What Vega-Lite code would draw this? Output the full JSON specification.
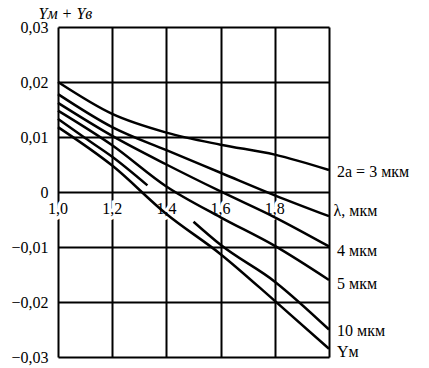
{
  "$schema": "https://vega.github.io/schema/vega-lite/v6.json",
  "autosize": "none",
  "width": 271,
  "height": 330,
  "padding": {"left": 58, "top": 27, "right": 100, "bottom": 11},
  "background": "white",
  "config": {
    "view": {"stroke": null},
    "font": "Liberation Serif"
  },
  "datasets": {
    "curves": [
      {"lam": 1.0, "v": 0.020, "s": "a3"},
      {"lam": 1.2, "v": 0.0142, "s": "a3"},
      {"lam": 1.4, "v": 0.0108, "s": "a3"},
      {"lam": 1.6, "v": 0.0086, "s": "a3"},
      {"lam": 1.8, "v": 0.0068, "s": "a3"},
      {"lam": 2.0, "v": 0.004, "s": "a3"},
      {"lam": 1.0, "v": 0.0178, "s": "b"},
      {"lam": 1.2, "v": 0.0118, "s": "b"},
      {"lam": 1.4, "v": 0.0076, "s": "b"},
      {"lam": 1.6, "v": 0.0035, "s": "b"},
      {"lam": 1.8, "v": -0.0006, "s": "b"},
      {"lam": 2.0, "v": -0.0044, "s": "b"},
      {"lam": 1.0, "v": 0.0162, "s": "a4"},
      {"lam": 1.2, "v": 0.0102, "s": "a4"},
      {"lam": 1.4, "v": 0.005, "s": "a4"},
      {"lam": 1.6, "v": 0.0001, "s": "a4"},
      {"lam": 1.8, "v": -0.0046, "s": "a4"},
      {"lam": 2.0, "v": -0.0099, "s": "a4"},
      {"lam": 1.0, "v": 0.0148, "s": "a5"},
      {"lam": 1.2, "v": 0.0085, "s": "a5"},
      {"lam": 1.4, "v": 0.001, "s": "a5"},
      {"lam": 1.6, "v": -0.0046, "s": "a5"},
      {"lam": 1.8, "v": -0.0098, "s": "a5"},
      {"lam": 2.0, "v": -0.016, "s": "a5"},
      {"lam": 1.0, "v": 0.0133, "s": "a10"},
      {"lam": 1.1, "v": 0.0098, "s": "a10"},
      {"lam": 1.2, "v": 0.0064, "s": "a10"},
      {"lam": 1.33, "v": 0.0012, "s": "a10"},
      {"lam": 1.5, "v": -0.0054, "s": "a10b"},
      {"lam": 1.6, "v": -0.0096, "s": "a10b"},
      {"lam": 1.8, "v": -0.0163, "s": "a10b"},
      {"lam": 2.0, "v": -0.025, "s": "a10b"},
      {"lam": 1.0, "v": 0.0118, "s": "ym"},
      {"lam": 1.2, "v": 0.0048, "s": "ym"},
      {"lam": 1.4, "v": -0.004, "s": "ym"},
      {"lam": 1.6, "v": -0.0113, "s": "ym"},
      {"lam": 1.8, "v": -0.0198, "s": "ym"},
      {"lam": 2.0, "v": -0.0285, "s": "ym"}
    ],
    "labels": [
      {"lam": 2.0, "v": 0.0037, "label": "2a = 3 мкм"},
      {"lam": 2.0, "v": -0.0108, "label": "4 мкм"},
      {"lam": 2.0, "v": -0.0167, "label": "5 мкм"},
      {"lam": 2.0, "v": -0.0253, "label": "10 мкм"},
      {"lam": 2.0, "v": -0.029, "label": "Yм"}
    ],
    "xticks": [
      {"lam": 1.0, "t": "1,0"},
      {"lam": 1.2, "t": "1,2"},
      {"lam": 1.4, "t": "1,4"},
      {"lam": 1.6, "t": "1,6"},
      {"lam": 1.8, "t": "1,8"}
    ]
  },
  "layer": [
    {
      "data": {"name": "xticks"},
      "mark": {"type": "text", "align": "center", "baseline": "middle", "dy": 17, "fontSize": 16, "font": "Liberation Serif", "fill": "white", "stroke": "white", "strokeWidth": 7},
      "encoding": {
        "x": {"field": "lam", "type": "quantitative", "scale": {"domain": [1.0, 2.0], "nice": false, "zero": false}},
        "y": {"datum": 0, "type": "quantitative", "scale": {"domain": [-0.03, 0.03], "nice": false, "zero": false}},
        "text": {"field": "t"}
      }
    },
    {
      "data": {"name": "curves"},
      "mark": {"type": "line", "interpolate": "monotone", "stroke": "black", "strokeWidth": 2.5},
      "encoding": {
        "x": {
          "field": "lam", "type": "quantitative",
          "scale": {"domain": [1.0, 2.0], "nice": false, "zero": false},
          "axis": {
            "orient": "bottom", "offset": -165,
            "values": [1.0, 1.2, 1.4, 1.6, 1.8, 2.0],
            "labels": false,
            "domain": false, "ticks": false,
            "grid": true, "gridColor": "black", "gridWidth": 2, "gridOpacity": 1,
            "title": "λ, мкм", "titleFont": "Liberation Serif", "titleFontSize": 16, "titleFontWeight": "normal",
            "titleColor": "black", "titleX": 275, "titleY": 23, "titleAlign": "left", "titleBaseline": "alphabetic"
          }
        },
        "y": {
          "field": "v", "type": "quantitative",
          "scale": {"domain": [-0.03, 0.03], "nice": false, "zero": false},
          "axis": {
            "values": [-0.03, -0.02, -0.01, 0, 0.01, 0.02, 0.03],
            "labelExpr": "datum.value == 0 ? '0' : replace(format(datum.value, '.2f'), '.', ',')",
            "labelFontSize": 16, "labelColor": "black", "labelPadding": 10,
            "labelFont": "Liberation Serif",
            "domain": false, "ticks": false,
            "grid": true, "gridColor": "black", "gridWidth": 2, "gridOpacity": 1,
            "title": "Yм + Yв", "titleAngle": 0, "titleFont": "Liberation Serif", "titleFontSize": 16,
            "titleFontWeight": "normal", "titleFontStyle": "italic", "titleColor": "black",
            "titleX": -20, "titleY": -9, "titleAlign": "left", "titleBaseline": "alphabetic"
          }
        },
        "detail": {"field": "s"}
      }
    },
    {
      "data": {"name": "xticks"},
      "mark": {"type": "text", "align": "center", "baseline": "middle", "dy": 17, "fontSize": 16, "font": "Liberation Serif", "color": "black"},
      "encoding": {
        "x": {"field": "lam", "type": "quantitative"},
        "y": {"datum": 0, "type": "quantitative"},
        "text": {"field": "t"}
      }
    },
    {
      "data": {"name": "labels"},
      "mark": {"type": "text", "align": "left", "baseline": "middle", "dx": 8, "fontSize": 16, "font": "Liberation Serif", "color": "black"},
      "encoding": {
        "x": {"field": "lam", "type": "quantitative"},
        "y": {"field": "v", "type": "quantitative"},
        "text": {"field": "label"}
      }
    }
  ]
}
